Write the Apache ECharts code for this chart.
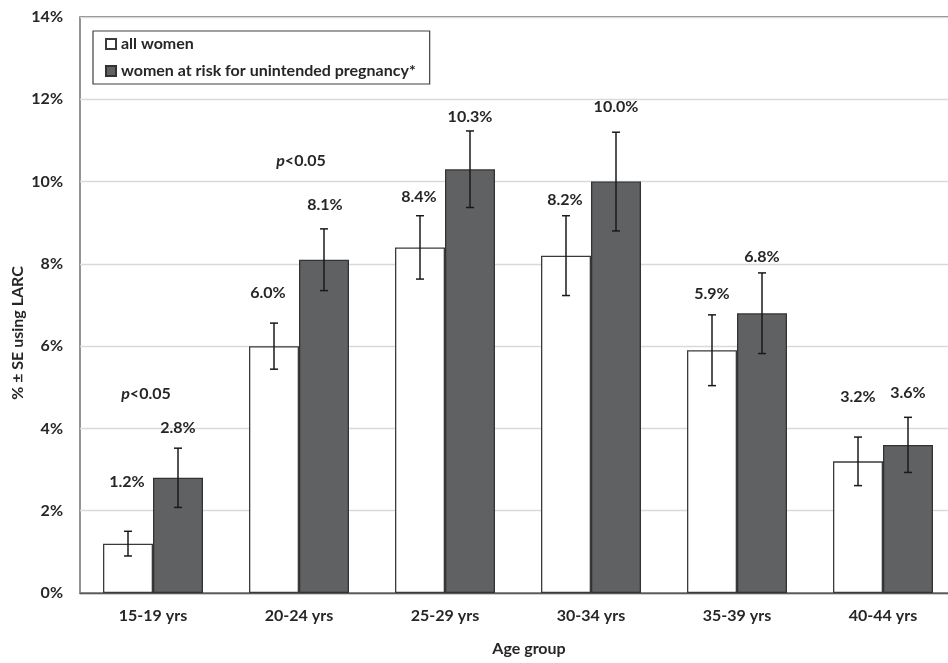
<!DOCTYPE html>
<html>
<head>
<meta charset="utf-8">
<title>LARC use by age group</title>
<script src="https://cdn.jsdelivr.net/npm/echarts@6/dist/echarts.min.js"></script>
<style>
  html, body { margin: 0; padding: 0; background: #fff; overflow: hidden; }
  /* the plot frame runs slightly past the right edge of the window */
  #chart { width: 956px; height: 663px; }
</style>
</head>
<body>
<div id="chart"></div>
<script>
// Age groups on the category axis
const ageGroups = ['15-19 yrs', '20-24 yrs', '25-29 yrs', '30-34 yrs', '35-39 yrs', '40-44 yrs'];

// Percent using LARC
const allWomen = [1.2, 6.0, 8.4, 8.2, 5.9, 3.2];
const atRiskWomen = [2.8, 8.1, 10.3, 10.0, 6.8, 3.6];

// Standard errors (percentage points)
const allWomenSE = [0.30, 0.56, 0.77, 0.97, 0.86, 0.59];
const atRiskWomenSE = [0.72, 0.75, 0.93, 1.20, 0.98, 0.67];

// Significance notes: [age group, height in %]
const pNotes = [['15-19 yrs', 4.84], ['20-24 yrs', 10.51]];

// Y-axis ticks
const yTicks = { min: 0, max: 14, step: 2 };

const seriesNames = ['all women', 'women at risk for unintended pregnancy*'];

const FONT = 'Lato';
const FS = 16;
const TEXT = '#262626';
const BAR_W = 50;

// Hand-tuned lifts for value labels so they clear the error bars
const whiteLabelShift = [[-1, -62], [-6, -53], [-1, -51], [-1, -56], [0, -56], [0, -64]];
const darkLabelShift = [[0, -50], [1, -55], [0, -52], [0, -75], [0, -56], [0, -52]];

function barData(values, shifts) {
  return values.map((v, i) => ({
    value: v,
    label: { offset: shifts[i] }
  }));
}

function errorData(values, se) {
  return values.map((v, i) => [i, v, se[i]]);
}

function errorBarRenderer(side) {
  return function (params, api) {
    const idx = api.value(0);
    const v = api.value(1);
    const se = api.value(2);
    const top = api.coord([idx, v + se]);
    const bottom = api.coord([idx, v - se]);
    const x = top[0] + side * BAR_W / 2;
    const cap = 4;
    const style = { stroke: '#1a1a1a', lineWidth: 1.5 };
    return {
      type: 'group',
      children: [
        { type: 'line', shape: { x1: x, y1: top[1], x2: x, y2: bottom[1] }, style: style },
        { type: 'line', shape: { x1: x - cap, y1: top[1], x2: x + cap, y2: top[1] }, style: style },
        { type: 'line', shape: { x1: x - cap, y1: bottom[1], x2: x + cap, y2: bottom[1] }, style: style }
      ]
    };
  };
}

const valueLabel = {
  show: true,
  position: 'top',
  distance: 0,
  verticalAlign: 'middle',
  fontFamily: FONT,
  fontWeight: 'bold',
  fontSize: FS,
  color: TEXT,
  formatter: p => p.value.toFixed(1) + '%'
};

const chart = echarts.init(document.getElementById('chart'), null, { renderer: 'canvas' });

chart.setOption({
  animation: false,
  backgroundColor: '#ffffff',
  textStyle: { fontFamily: FONT },
  grid: {
    left: 80,
    top: 17,
    right: 0,
    bottom: 70,
    show: true,
    borderColor: '#595959',
    borderWidth: 1.3,
    backgroundColor: 'transparent'
  },
  legend: {
    data: seriesNames.map(n => ({ name: n, icon: 'rect' })),
    orient: 'vertical',
    left: 93,
    top: 31,
    itemWidth: 10,
    itemHeight: 10,
    itemGap: 9,
    padding: [4, 14, 4, 12],
    borderColor: '#404040',
    borderWidth: 1.2,
    textStyle: {
      fontFamily: FONT,
      fontWeight: 'bold',
      fontSize: FS,
      color: TEXT,
      lineHeight: 18
    }
  },
  xAxis: {
    type: 'category',
    data: ageGroups,
    axisLine: { show: true, lineStyle: { color: '#595959', width: 1.3 } },
    axisTick: { show: false },
    axisLabel: {
      margin: 15,
      fontFamily: FONT,
      fontWeight: 'bold',
      fontSize: FS,
      color: TEXT
    },
    splitLine: { show: false }
  },
  yAxis: {
    type: 'value',
    min: yTicks.min,
    max: yTicks.max,
    interval: yTicks.step,
    axisLine: { show: false },
    axisTick: { show: false },
    axisLabel: {
      margin: 17,
      fontFamily: FONT,
      fontWeight: 'bold',
      fontSize: FS,
      color: TEXT,
      formatter: '{value}%'
    },
    splitLine: { show: true, lineStyle: { color: '#d9d9d9', width: 1.3 } }
  },
  graphic: [
    {
      type: 'text',
      x: 18,
      y: 333,
      rotation: Math.PI / 2,
      style: {
        text: '% ± SE using LARC',
        fontFamily: FONT,
        fontWeight: 'bold',
        fontSize: FS,
        fill: TEXT,
        align: 'center',
        verticalAlign: 'middle'
      }
    },
    {
      type: 'text',
      x: 529,
      y: 649,
      style: {
        text: 'Age group',
        fontFamily: FONT,
        fontWeight: 'bold',
        fontSize: FS,
        fill: TEXT,
        align: 'center',
        verticalAlign: 'middle'
      }
    }
  ],
  series: [
    {
      name: seriesNames[0],
      type: 'bar',
      barWidth: BAR_W,
      barGap: '0%',
      data: barData(allWomen, whiteLabelShift),
      itemStyle: { color: '#ffffff', borderColor: '#3a3a3a', borderWidth: 1.3 },
      label: valueLabel,
      z: 2
    },
    {
      name: seriesNames[1],
      type: 'bar',
      barWidth: BAR_W,
      barGap: '0%',
      data: barData(atRiskWomen, darkLabelShift),
      itemStyle: { color: '#606163', borderColor: '#333333', borderWidth: 1.3 },
      label: valueLabel,
      z: 2
    },
    {
      name: 'all women SE',
      type: 'custom',
      data: errorData(allWomen, allWomenSE),
      renderItem: errorBarRenderer(-1),
      encode: { x: 0, y: 1 },
      z: 5,
      silent: true
    },
    {
      name: 'at risk SE',
      type: 'custom',
      data: errorData(atRiskWomen, atRiskWomenSE),
      renderItem: errorBarRenderer(1),
      encode: { x: 0, y: 1 },
      z: 5,
      silent: true
    },
    {
      name: 'significance',
      type: 'scatter',
      symbolSize: 0,
      data: pNotes,
      silent: true,
      itemStyle: { color: TEXT, opacity: 1 },
      label: {
        show: true,
        position: 'top',
        distance: 0,
        verticalAlign: 'middle',
        textBorderWidth: 0,
        formatter: '{i|p}{n|<0.05}',
        rich: {
          i: { fontFamily: FONT, fontStyle: 'italic', fontWeight: 'bold', fontSize: FS, color: TEXT, textBorderWidth: 0 },
          n: { fontFamily: FONT, fontWeight: 'bold', fontSize: FS, color: TEXT, textBorderWidth: 0 }
        }
      },
      labelLayout: function (p) {
        return { dx: p.dataIndex === 0 ? -7 : 2 };
      }
    }
  ]
});
</script>
</body>
</html>
